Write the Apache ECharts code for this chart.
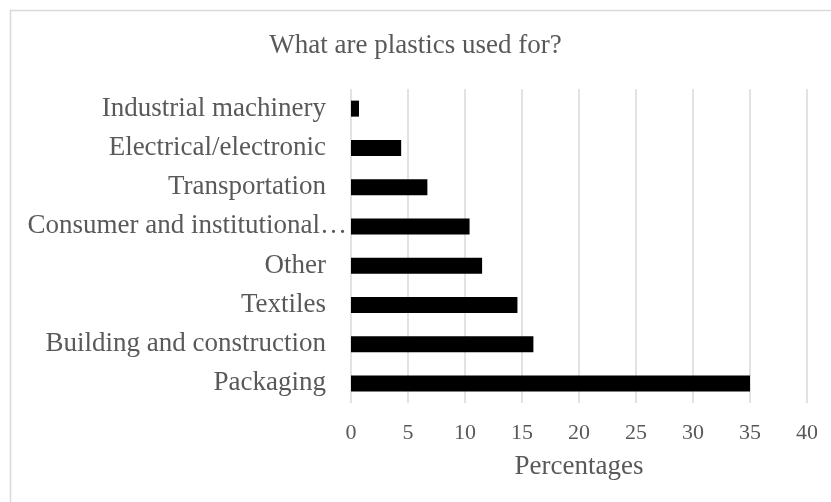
<!DOCTYPE html>
<html>
<head>
<meta charset="utf-8">
<script src="https://cdn.jsdelivr.net/npm/echarts@6/dist/echarts.min.js"></script>
<style>
  html, body { margin: 0; padding: 0; background: #fff; }
  #chart { width: 831px; height: 502px; }
</style>
</head>
<body>
<div id="chart"></div>
<script>
// categories listed bottom to top (as the y axis draws them)
var categories = ["Packaging", "Building and construction", "Textiles", "Other",
  "Consumer and institutional…", "Transportation", "Electrical/electronic", "Industrial machinery"];
var percentages = [35, 16, 14.6, 11.5, 10.4, 6.7, 4.4, 0.7];
var xTicks = [0, 40, 5];

var font = "'Liberation Serif', 'Times New Roman', serif";
var textColor = "#595959";

var myChart = echarts.init(document.getElementById("chart"));

var option = {
  animation: false,
  title: {
    text: "What are plastics used for?",
    left: "center",
    top: 27,
    textStyle: { fontFamily: font, fontSize: 27, fontWeight: "normal", color: textColor }
  },
  graphic: [{
    type: "rect",
    shape: { x: 10.5, y: 10.5, width: 840, height: 520 },
    style: { fill: "none", stroke: "#d9d9d9", lineWidth: 1.5 },
    silent: true
  }],
  grid: { left: 351, right: 24, top: 89, bottom: 99 },
  xAxis: {
    type: "value",
    min: xTicks[0],
    max: xTicks[1],
    interval: xTicks[2],
    name: "Percentages",
    nameLocation: "middle",
    nameGap: 50,
    nameTextStyle: { fontFamily: font, fontSize: 27, color: textColor },
    axisLine: { show: false },
    axisTick: { show: false },
    axisLabel: { fontFamily: font, fontSize: 22, color: textColor, margin: 19 },
    splitLine: { lineStyle: { color: "#d9d9d9", width: 1.5 } }
  },
  yAxis: {
    type: "category",
    data: categories,
    axisLine: { show: false },
    axisTick: { show: false },
    axisLabel: {
      fontFamily: font, fontSize: 27, color: textColor, margin: 4,
      // the truncated label runs closer to the axis, as in Excel
      formatter: function (v) {
        return v.indexOf("…") >= 0 ? "{b|" + v + "}" : "{a|" + v + "}";
      },
      rich: {
        a: { fontFamily: font, fontSize: 27, color: textColor, padding: [0, 21, 0, 0] },
        b: { fontFamily: font, fontSize: 27, color: textColor }
      }
    }
  },
  series: [{
    name: "Percentages",
    type: "bar",
    data: percentages,
    barWidth: 16,
    itemStyle: { color: "#000" }
  }]
};

myChart.setOption(option);
</script>
</body>
</html>
